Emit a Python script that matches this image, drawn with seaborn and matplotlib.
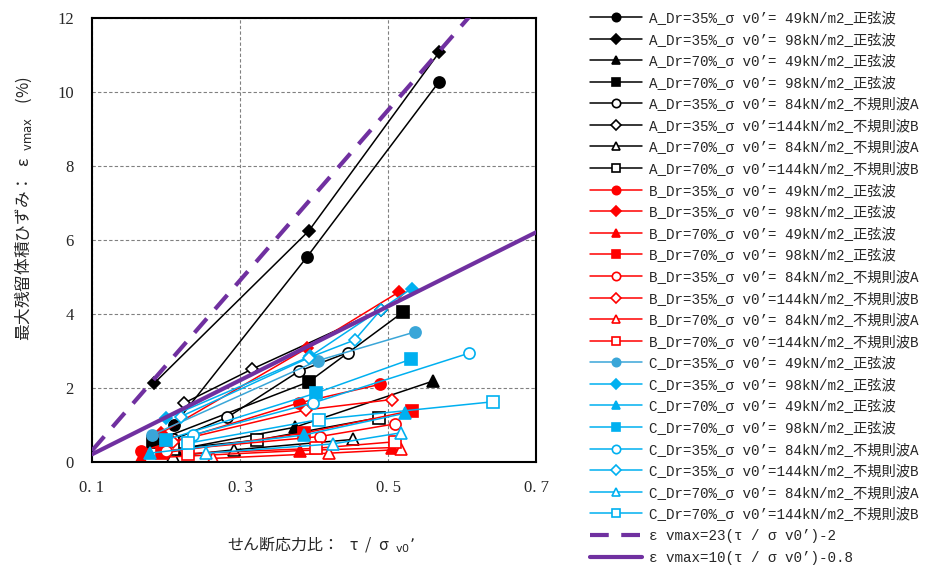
import numpy as np
import pandas as pd
import seaborn as sns
import matplotlib.pyplot as plt
from matplotlib.font_manager import FontProperties

# せん断応力比 τ/σv0' と 最大残留体積ひずみ εvmax(%) : ケースごとの読み取り値
series_names = [
    "A_Dr=35%_σ v0’= 49kN/m2_正弦波",
    "A_Dr=35%_σ v0’= 98kN/m2_正弦波",
    "A_Dr=70%_σ v0’= 49kN/m2_正弦波",
    "A_Dr=70%_σ v0’= 98kN/m2_正弦波",
    "A_Dr=35%_σ v0’= 84kN/m2_不規則波A",
    "A_Dr=35%_σ v0’=144kN/m2_不規則波B",
    "A_Dr=70%_σ v0’= 84kN/m2_不規則波A",
    "A_Dr=70%_σ v0’=144kN/m2_不規則波B",
    "B_Dr=35%_σ v0’= 49kN/m2_正弦波",
    "B_Dr=35%_σ v0’= 98kN/m2_正弦波",
    "B_Dr=70%_σ v0’= 49kN/m2_正弦波",
    "B_Dr=70%_σ v0’= 98kN/m2_正弦波",
    "B_Dr=35%_σ v0’= 84kN/m2_不規則波A",
    "B_Dr=35%_σ v0’=144kN/m2_不規則波B",
    "B_Dr=70%_σ v0’= 84kN/m2_不規則波A",
    "B_Dr=70%_σ v0’=144kN/m2_不規則波B",
    "C_Dr=35%_σ v0’= 49kN/m2_正弦波",
    "C_Dr=35%_σ v0’= 98kN/m2_正弦波",
    "C_Dr=70%_σ v0’= 49kN/m2_正弦波",
    "C_Dr=70%_σ v0’= 98kN/m2_正弦波",
    "C_Dr=35%_σ v0’= 84kN/m2_不規則波A",
    "C_Dr=35%_σ v0’=144kN/m2_不規則波B",
    "C_Dr=70%_σ v0’= 84kN/m2_不規則波A",
    "C_Dr=70%_σ v0’=144kN/m2_不規則波B",
]

stress_ratio = [
    [0.211, 0.390, 0.569],
    [0.184, 0.393, 0.569],
    [0.213, 0.374, 0.561],
    [0.182, 0.393, 0.520],
    [0.210, 0.283, 0.380, 0.446],
    [0.224, 0.316, 0.490],
    [0.210, 0.292, 0.452],
    [0.210, 0.323, 0.488],
    [0.166, 0.380, 0.489],
    [0.193, 0.390, 0.515],
    [0.166, 0.381, 0.505],
    [0.194, 0.386, 0.532],
    [0.200, 0.408, 0.509],
    [0.209, 0.389, 0.505],
    [0.264, 0.420, 0.517],
    [0.230, 0.402, 0.510],
    [0.181, 0.405, 0.537],
    [0.200, 0.395, 0.532],
    [0.178, 0.386, 0.523],
    [0.200, 0.402, 0.531],
    [0.236, 0.399, 0.609],
    [0.220, 0.393, 0.455, 0.490],
    [0.254, 0.425, 0.517],
    [0.230, 0.407, 0.642],
]

strain_max = [
    [0.99, 5.52, 10.27],
    [2.12, 6.24, 11.06],
    [0.32, 0.93, 2.18],
    [0.53, 2.16, 4.04],
    [0.60, 1.20, 2.45, 2.95],
    [1.58, 2.50, 4.10],
    [0.15, 0.32, 0.60],
    [0.35, 0.58, 1.19],
    [0.28, 1.59, 2.09],
    [0.77, 3.06, 4.59],
    [0.09, 0.30, 0.38],
    [0.23, 0.77, 1.38],
    [0.30, 0.68, 1.02],
    [0.54, 1.40, 1.68],
    [0.09, 0.23, 0.33],
    [0.22, 0.36, 0.54],
    [0.72, 2.73, 3.51],
    [1.17, 2.85, 4.68],
    [0.23, 0.72, 1.31],
    [0.59, 1.85, 2.77],
    [0.72, 1.59, 2.93],
    [1.22, 2.81, 3.29, 4.10],
    [0.23, 0.48, 0.78],
    [0.50, 1.14, 1.62],
]

# 近似式 εvmax = a(τ/σv0') + b
fit_labels = ["ε vmax=23(τ / σ v0’)-2", "ε vmax=10(τ / σ v0’)-0.8"]
fit_slope = [23, 10]
fit_intercept = [-2, -0.8]
fit_range = [0.1, 0.7]

x_ticks = [0.1, 0.3, 0.5, 0.7]
x_tick_labels = ["0. 1", "0. 3", "0. 5", "0. 7"]
y_ticks = [0, 2, 4, 6, 8, 10, 12]

# styles
group_colors = {"A": "#000000", "B": "#FF0000", "C": "#00B0F0"}
case_markers = ["o", "D", "^", "s", "o", "D", "^", "s"]
case_filled = [True, True, True, True, False, False, False, False]
purple = "#7030A0"

rows = []
for name, xs, ys in zip(series_names, stress_ratio, strain_max):
    for x, y in zip(xs, ys):
        rows.append({"case": name, "ratio": x, "strain": y})
df = pd.DataFrame(rows)

sns.set_style("white")
plt.rcParams["font.family"] = ["Noto Sans CJK JP", "DejaVu Sans"]

fig = plt.figure(figsize=(9.31, 5.69), dpi=100)
ax = fig.add_axes([0.0988, 0.1886, 0.477, 0.7803])

for i, name in enumerate(series_names):
    color = group_colors[name[0]]
    if i == 16:
        color = "#3AA6D8"
    k = i % 8
    mk = case_markers[k]
    ms = 6.5 if mk == "D" else 8
    sns.lineplot(data=df[df["case"] == name], x="ratio", y="strain",
                 estimator=None, sort=False, ax=ax, color=color, lw=1.1,
                 marker=mk, markersize=ms,
                 markerfacecolor=color if case_filled[k] else "white",
                 markeredgecolor=color, markeredgewidth=1.2, label=name)

fit_x = np.array(fit_range)
for lab, a, b, ls in zip(fit_labels, fit_slope, fit_intercept, [(0, (4.5, 3)), "-"]):
    sns.lineplot(x=fit_x, y=a * fit_x + b, ax=ax, color=purple, lw=3,
                 linestyle=ls, label=lab, zorder=5)

ax.set_xlim(0.1, 0.7)
ax.set_ylim(0, 12)
ax.set_xticks(x_ticks)
ax.set_xticklabels(x_tick_labels)
ax.set_yticks(y_ticks)
tick_font = FontProperties(family=["Liberation Serif"], size=12)
for t in ax.get_xticklabels() + ax.get_yticklabels():
    t.set_fontproperties(tick_font)
ax.tick_params(length=0, pad=13)
ax.grid(True, color="#808080", linestyle=(0, (3, 2)), lw=0.8)
for sp in ax.spines.values():
    sp.set_color("black")
    sp.set_linewidth(1.5)

ax.set_xlabel("せん断応力比：   τ  /  σ  $_{\\mathrm{v0}}$’", fontsize=11.5)
ax.set_ylabel("最大残留体積ひずみ：  ε  $_{\\mathrm{vmax}}$    (%)", fontsize=12)
ax.xaxis.set_label_coords(0.517, -0.165)
ax.yaxis.set_label_coords(-0.13, 0.57)

handles, labels = ax.get_legend_handles_labels()
if ax.get_legend() is not None:
    ax.get_legend().remove()
leg_font = FontProperties(family=["Liberation Mono", "Noto Sans CJK JP"], size=10.3)
fig.legend(handles, labels, loc="upper left", bbox_to_anchor=(590 / 931, 1 - 11 / 569),
           frameon=False, prop=leg_font, handlelength=3.6, handletextpad=0.5,
           labelspacing=0.53, markerscale=0.75, borderaxespad=0, borderpad=0)

fig.savefig("out.png", dpi=100)
